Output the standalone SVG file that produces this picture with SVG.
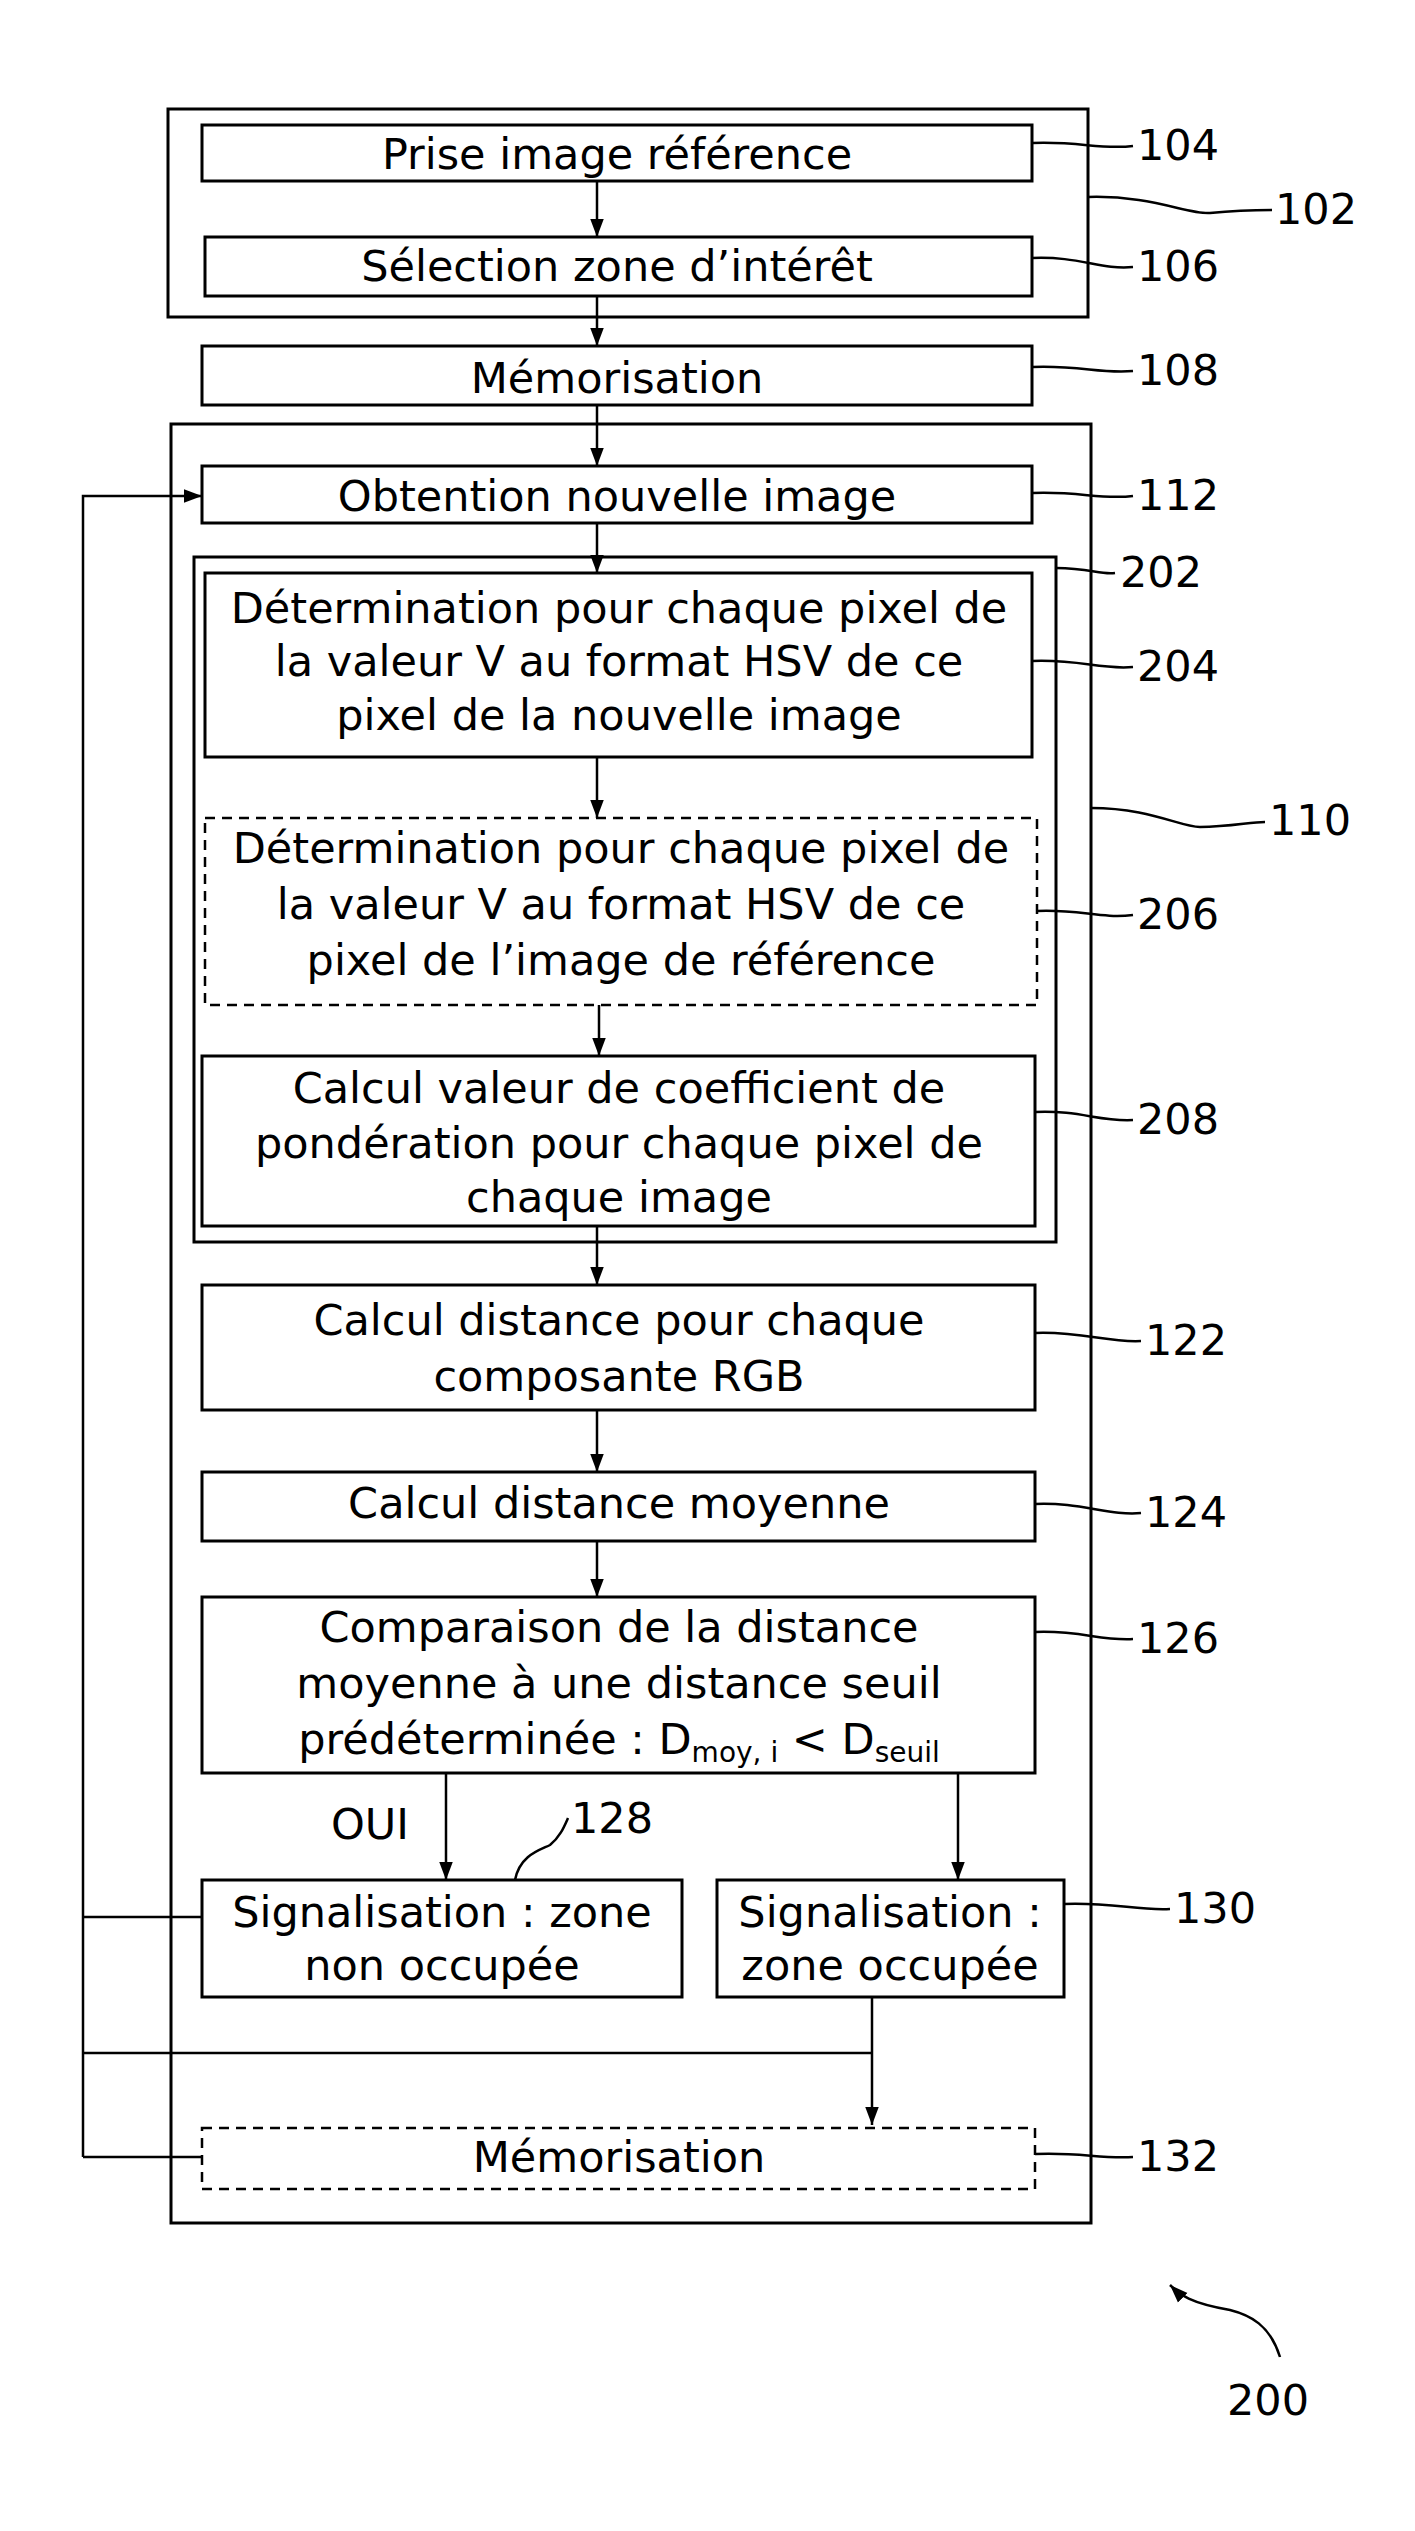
<svg xmlns="http://www.w3.org/2000/svg" width="1415" height="2531" viewBox="0 0 1415 2531">
<style>
.b{fill:#fff;stroke:#000;stroke-width:3}
.d{fill:#fff;stroke:#000;stroke-width:2.5;stroke-dasharray:10 7}
.t{font-family:"DejaVu Sans",Verdana,sans-serif;font-size:43px;text-anchor:middle;fill:#000}
.l{font-family:"DejaVu Sans",Verdana,sans-serif;font-size:43px;fill:#000}
.c{fill:none;stroke:#000;stroke-width:2.5}
.w{fill:none;stroke:#000;stroke-width:2.5}
</style>
<defs>
<marker id="a" markerWidth="18" markerHeight="24" refX="24" refY="12" orient="auto" markerUnits="userSpaceOnUse" viewBox="0 0 24 24">
<path d="M0,3 L24,12 L0,21 Z" fill="#000"/>
</marker>
</defs>
<rect width="1415" height="2531" fill="#fff"/>
<g transform="translate(0,5)">
<g id="n102"><rect class="b" x="168" y="104" width="920" height="208"/></g>
<g id="n110"><rect class="b" x="171" y="419" width="920" height="1799"/></g>
<g id="n202"><rect class="b" x="194" y="552" width="862" height="685"/></g>
<g id="n104"><rect class="b" x="202" y="120" width="830" height="56"/><text class="t" x="617" y="164">Prise image référence</text></g>
<g id="n106"><rect class="b" x="205" y="232" width="827" height="59"/><text class="t" x="617" y="276">Sélection zone d’intérêt</text></g>
<g id="n108"><rect class="b" x="202" y="341" width="830" height="59"/><text class="t" x="617" y="388">Mémorisation</text></g>
<g id="n112"><rect class="b" x="202" y="461" width="830" height="57"/><text class="t" x="617" y="506">Obtention nouvelle image</text></g>
<g id="n204"><rect class="b" x="205" y="568" width="827" height="184"/><text class="t" x="619" y="618">Détermination pour chaque pixel de</text><text class="t" x="619" y="671">la valeur V au format HSV de ce</text><text class="t" x="619" y="725">pixel de la nouvelle image</text></g>
<g id="n206"><rect class="d" x="205" y="813" width="832" height="187"/><text class="t" x="621" y="858">Détermination pour chaque pixel de</text><text class="t" x="621" y="914">la valeur V au format HSV de ce</text><text class="t" x="621" y="970">pixel de l’image de référence</text></g>
<g id="n208"><rect class="b" x="202" y="1051" width="833" height="170"/><text class="t" x="619" y="1098">Calcul valeur de coefficient de</text><text class="t" x="619" y="1153">pondération pour chaque pixel de</text><text class="t" x="619" y="1207">chaque image</text></g>
<g id="n122"><rect class="b" x="202" y="1280" width="833" height="125"/><text class="t" x="619" y="1330">Calcul distance pour chaque</text><text class="t" x="619" y="1386">composante RGB</text></g>
<g id="n124"><rect class="b" x="202" y="1467" width="833" height="69"/><text class="t" x="619" y="1513">Calcul distance moyenne</text></g>
<g id="n126"><rect class="b" x="202" y="1592" width="833" height="176"/><text class="t" x="619" y="1637">Comparaison de la distance</text><text class="t" x="619" y="1693">moyenne à une distance seuil</text><text class="t" x="619" y="1749">prédéterminée : D<tspan font-size="28" dy="8">moy, i</tspan><tspan dy="-8"> &lt; D</tspan><tspan font-size="28" dy="8">seuil</tspan></text></g>
<g id="n128"><rect class="b" x="202" y="1875" width="480" height="117"/><text class="t" x="442" y="1922">Signalisation : zone</text><text class="t" x="442" y="1975">non occupée</text></g>
<g id="n130"><rect class="b" x="717" y="1875" width="347" height="117"/><text class="t" x="890" y="1922">Signalisation :</text><text class="t" x="890" y="1975">zone occupée</text></g>
<g id="n132"><rect class="d" x="202" y="2123" width="833" height="61"/><text class="t" x="619" y="2167">Mémorisation</text></g>
<g id="connectors">
<path class="c" d="M597,176 V232" marker-end="url(#a)"/>
<path class="c" d="M597,291 V341" marker-end="url(#a)"/>
<path class="c" d="M597,400 V461" marker-end="url(#a)"/>
<path class="c" d="M597,518 V568" marker-end="url(#a)"/>
<path class="c" d="M597,752 V813" marker-end="url(#a)"/>
<path class="c" d="M599,1000 V1051" marker-end="url(#a)"/>
<path class="c" d="M597,1221 V1280" marker-end="url(#a)"/>
<path class="c" d="M597,1405 V1467" marker-end="url(#a)"/>
<path class="c" d="M597,1536 V1592" marker-end="url(#a)"/>
<path class="c" d="M446,1768 V1875" marker-end="url(#a)"/>
<path class="c" d="M958,1768 V1875" marker-end="url(#a)"/>
<path class="c" d="M872,1992 V2120" marker-end="url(#a)"/>
<path class="c" d="M83,2048 H872"/>
<path class="c" stroke-width="3" d="M202,1912 H83 M202,2152 H83 M83,2152 V491 H202" marker-end="url(#a)"/>
<text class="l" x="331" y="1834">OUI</text>
</g>
<g id="labels">
<path class="w" d="M1032,138 C1080,136 1100,145 1133,141"/><text class="l" x="1137" y="155">104</text>
<path class="w" d="M1088,192 C1150,190 1190,210 1210,208 C1240,205 1260,205 1272,205"/><text class="l" x="1275" y="219">102</text>
<path class="w" d="M1032,253 C1080,251 1100,265 1133,262"/><text class="l" x="1137" y="276">106</text>
<path class="w" d="M1032,362 C1080,360 1100,369 1133,366"/><text class="l" x="1137" y="380">108</text>
<path class="w" d="M1032,488 C1080,486 1100,495 1133,491"/><text class="l" x="1137" y="505">112</text>
<path class="w" d="M1056,563 C1090,563 1100,570 1115,568"/><text class="l" x="1120" y="582">202</text>
<path class="w" d="M1032,656 C1080,654 1100,665 1133,662"/><text class="l" x="1137" y="676">204</text>
<path class="w" d="M1091,803 C1150,803 1180,822 1200,822 C1230,822 1250,817 1265,817"/><text class="l" x="1269" y="830">110</text>
<path class="w" d="M1037,906 C1080,904 1100,914 1133,910"/><text class="l" x="1137" y="924">206</text>
<path class="w" d="M1035,1107 C1080,1105 1100,1117 1133,1115"/><text class="l" x="1137" y="1129">208</text>
<path class="w" d="M1035,1328 C1080,1326 1110,1338 1141,1336"/><text class="l" x="1145" y="1350">122</text>
<path class="w" d="M1035,1499 C1080,1497 1110,1511 1141,1508"/><text class="l" x="1145" y="1522">124</text>
<path class="w" d="M1035,1627 C1080,1625 1100,1636 1133,1634"/><text class="l" x="1137" y="1648">126</text>
<path class="w" d="M515,1875 C520,1850 540,1845 550,1840 C560,1832 564,1822 568,1813"/><text class="l" x="571" y="1828">128</text>
<path class="w" d="M1064,1899 C1110,1897 1140,1906 1170,1904"/><text class="l" x="1174" y="1918">130</text>
<path class="w" d="M1035,2149 C1080,2147 1100,2154 1133,2152"/><text class="l" x="1137" y="2166">132</text>
<path class="w" d="M1280,2352 C1270,2320 1250,2310 1230,2305 C1190,2298 1180,2290 1170,2280" marker-end="url(#a)"/><text class="l" x="1227" y="2410">200</text>
</g>
</g>
</svg>
